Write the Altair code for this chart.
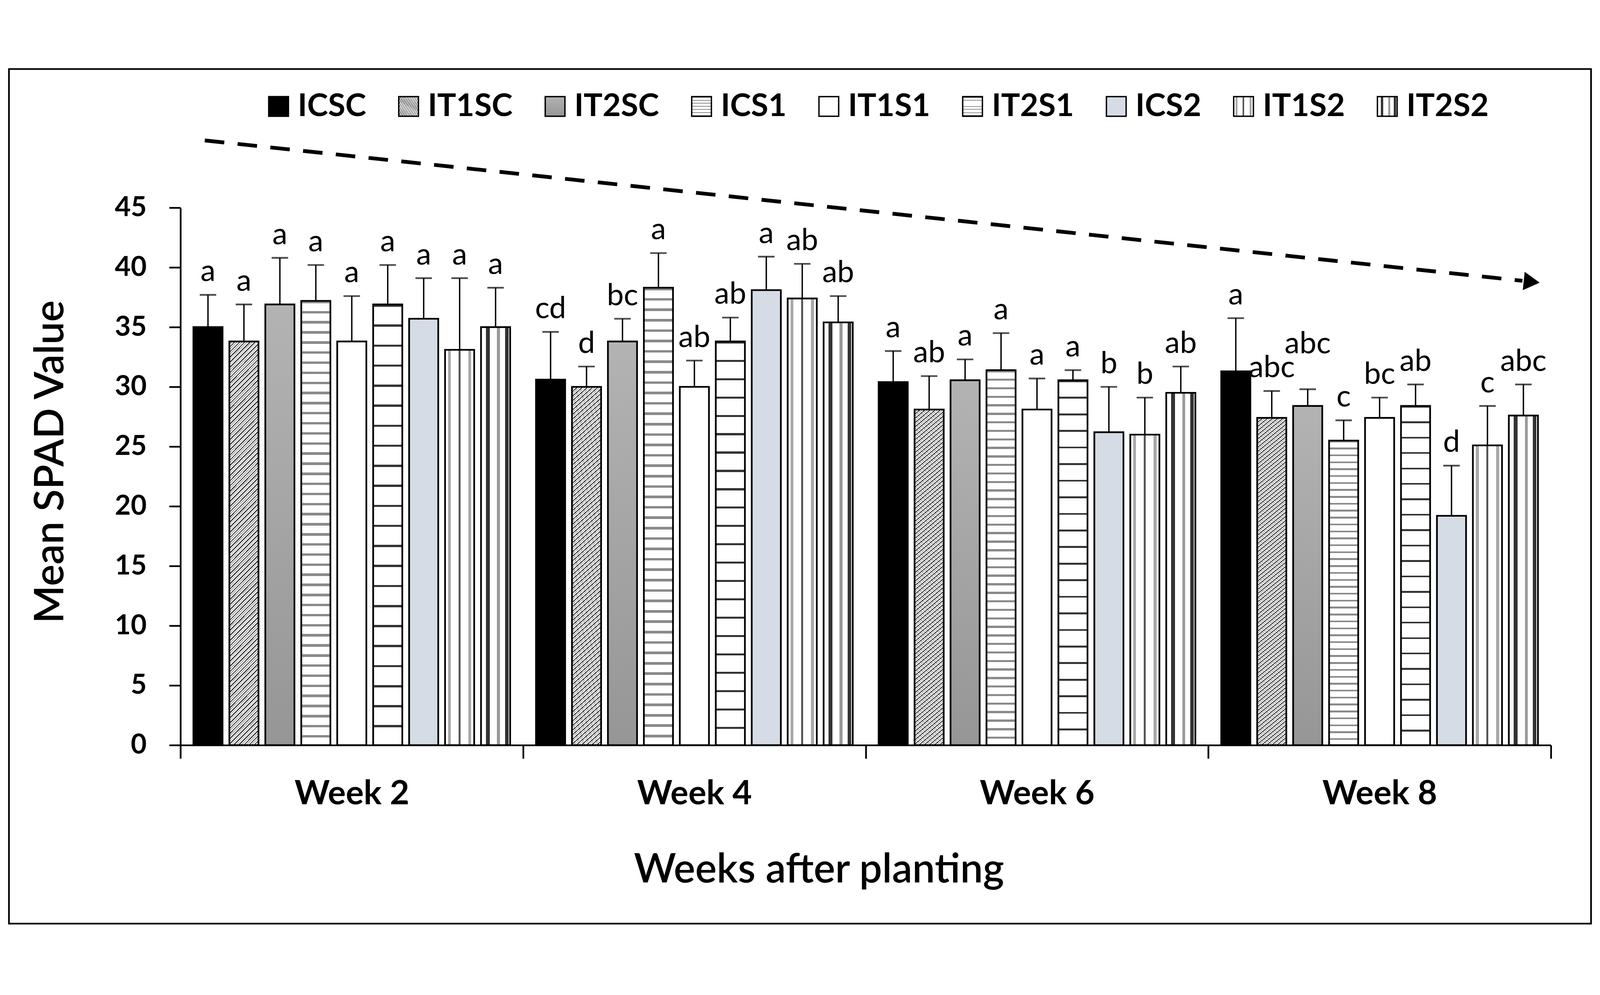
import altair as alt
import pandas as pd

weeks = ["Week 2", "Week 4", "Week 6", "Week 8"]
treatments = ["ICSC", "IT1SC", "IT2SC", "ICS1", "IT1S1", "IT2S1", "ICS2", "IT1S2", "IT2S2"]

mean_w2 = [35.0, 33.8, 36.9, 37.2, 33.8, 36.9, 35.7, 33.1, 35.0]
mean_w4 = [30.6, 30.0, 33.8, 38.3, 30.0, 33.8, 38.1, 37.4, 35.4]
mean_w6 = [30.4, 28.1, 30.55, 31.4, 28.1, 30.55, 26.2, 26.0, 29.5]
mean_w8 = [31.3, 27.4, 28.4, 25.5, 27.4, 28.4, 19.2, 25.1, 27.6]

err_w2 = [2.7, 3.1, 3.9, 3.0, 3.8, 3.3, 3.4, 6.0, 3.3]
err_w4 = [4.0, 1.7, 1.9, 2.9, 2.2, 2.0, 2.8, 2.9, 2.2]
err_w6 = [2.6, 2.8, 1.75, 3.1, 2.6, 0.85, 3.8, 3.1, 2.2]
err_w8 = [4.45, 2.25, 1.4, 1.7, 1.7, 1.8, 4.2, 3.3, 2.6]

let_w2 = ["a", "a", "a", "a", "a", "a", "a", "a", "a"]
let_w4 = ["cd", "d", "bc", "a", "ab", "ab", "a", "ab", "ab"]
let_w6 = ["a", "ab", "a", "a", "a", "a", "b", "b", "ab"]
let_w8 = ["a", "abc", "abc", "c", "bc", "ab", "d", "c", "abc"]

means = [mean_w2, mean_w4, mean_w6, mean_w8]
errs = [err_w2, err_w4, err_w6, err_w8]
lets = [let_w2, let_w4, let_w6, let_w8]

rows = []
for wi, w in enumerate(weeks):
    for ti, t in enumerate(treatments):
        rows.append({"week": w, "trt": t, "mean": means[wi][ti],
                     "err": errs[wi][ti], "letter": lets[wi][ti]})
df = pd.DataFrame(rows)

FONT = "Lato"


# ---------- fill styles (gradient stripes imitating hatch patterns) ----------
def stripes(n, bands):
    stops = [(0.0, "#ffffff")]
    for i in range(n):
        for a, b, col in bands:
            o1 = (i + a) / n
            o2 = (i + b) / n
            stops += [(o1, "#ffffff"), (o1, col), (o2, col), (o2, "#ffffff")]
    stops.append((1.0, "#ffffff"))
    return stops


def grad(x2, y2, stops):
    s = ",".join("{offset: %.5f, color: '%s'}" % (o, c) for o, c in stops)
    return {"expr": "{gradient: 'linear', x1: 0, y1: 0, x2: %s, y2: %s, stops: [%s]}" % (x2, y2, s)}


fill_range = [
    "#000000",                                                     # ICSC
    grad(0.0775, 1.067, stripes(84, [(0.0, 0.28, "#333333"), (0.5, 0.7, "#a0a0a0")])),  # IT1SC
    grad(0, 1, [(0.0, "#b3b3b3"), (1.0, "#969696")]),             # IT2SC
    grad(0, 1, stripes(44, [(0.0, 0.25, "#8a8a8a")])),            # ICS1
    "#ffffff",                                                     # IT1S1
    grad(0, 1, stripes(22, [(0.0, 0.11, "#333333")])),            # IT2S1
    "#d6dce5",                                                     # ICS2
    grad(1, 0, stripes(1, [(0.1, 0.2, "#a8a8a8"), (0.46, 0.53, "#555555"), (0.8, 0.9, "#a8a8a8")])),  # IT1S2
    grad(1, 0, stripes(1, [(0.17, 0.3, "#333333"), (0.55, 0.65, "#999999"), (0.82, 0.95, "#333333")])),  # IT2S2
]

W, H = 3995, 1566

base = alt.Chart(df).transform_calculate(top="datum.mean + datum.err").encode(
    x=alt.X("week:N", sort=weeks, scale=alt.Scale(paddingInner=0, paddingOuter=0),
            axis=alt.Axis(title="Weeks after planting", labelAngle=0, tickBand="extent",
                          tickSize=39, tickWidth=5, tickColor="black",
                          domainWidth=5, domainColor="black",
                          labelFont=FONT, labelFontSize=98, labelFontWeight="bold",
                          labelColor="black", labelBaseline="alphabetic", labelPadding=133,
                          labelLimit=0,
                          titleFont=FONT, titleFontSize=118, titleFontWeight=600,
                          titleColor="black", titleX=1861, titleY=400,
                          titleBaseline="alphabetic")),
    xOffset=alt.XOffset("trt:N", sort=treatments,
                        scale=alt.Scale(paddingInner=0.19, paddingOuter=0.36)),
)

yscale = alt.Scale(domain=[0, 45], nice=False)

bars = base.mark_bar(stroke="black", strokeWidth=5).encode(
    y=alt.Y("mean:Q", scale=yscale,
            axis=alt.Axis(title="Mean SPAD Value", values=list(range(0, 50, 5)), grid=False,
                          tickSize=33, tickWidth=5, tickColor="black",
                          domainWidth=5, domainColor="black",
                          labelFont=FONT, labelFontSize=80, labelFontWeight="bold",
                          labelColor="black", labelPadding=66,
                          titleFont=FONT, titleFontSize=118, titleFontWeight=600,
                          titleColor="black", titleX=-342, titleY=740,
                          titleBaseline="alphabetic")),
    fill=alt.Fill("trt:N", scale=alt.Scale(domain=treatments, range=fill_range),
                  legend=alt.Legend(title=None, orient="none", legendX=240, legendY=-341,
                                    direction="horizontal", columns=9,
                                    symbolType="square", symbolSize=3300,
                                    symbolStrokeColor="black", symbolStrokeWidth=4,
                                    labelFont=FONT, labelFontSize=92, labelFontWeight="bold",
                                    labelColor="black", labelOffset=10, labelLimit=2000,
                                    columnPadding=77, padding=0)),
)

rules = base.mark_rule(color="black", strokeWidth=4).encode(
    y=alt.Y("mean:Q", scale=yscale), y2="top:Q")
caps = base.mark_tick(color="black", thickness=5, size=48).encode(
    y=alt.Y("top:Q", scale=yscale))

is_lift = "datum.week == 'Week 8' && datum.trt == 'IT2SC'"
labels = base.transform_filter("!(" + is_lift + ")").mark_text(
    font=FONT, fontSize=88, baseline="alphabetic", dy=-40, color="black").encode(
    y=alt.Y("top:Q", scale=yscale), text="letter:N")
labels_lift = base.transform_filter(is_lift).mark_text(
    font=FONT, fontSize=88, baseline="alphabetic", dy=-105, color="black").encode(
    y=alt.Y("top:Q", scale=yscale), text="letter:N")

one = alt.Data(values=[{"k": 1}])
arrow_line = alt.Chart(one).mark_rule(color="black", strokeWidth=11, strokeDash=[57, 39]).encode(
    x=alt.value(71), y=alt.value(-196), x2=alt.value(3912), y2=alt.value(213))
arrow_head = alt.Chart(one).mark_point(shape="triangle-right", filled=True, size=2900,
                                       angle=6, color="black", opacity=1).encode(
    x=alt.value(3939), y=alt.value(216))
frame = alt.Chart(one).mark_rect(fill="transparent", stroke="black", strokeWidth=5).encode(
    x=alt.value(-500), x2=alt.value(4112), y=alt.value(-404), y2=alt.value(2086))

chart = alt.layer(bars, rules, caps, labels, labels_lift, arrow_line, arrow_head, frame).properties(
    width=W, height=H,
    autosize=alt.AutoSizeParams(type="pad"),
    padding=14,
    background="white",
).configure_view(stroke=None)

chart.save("out.html", embed_options={"renderer": "svg", "actions": False})
